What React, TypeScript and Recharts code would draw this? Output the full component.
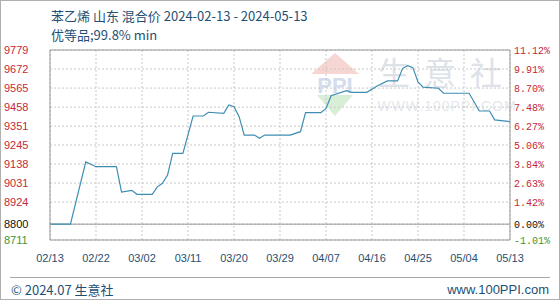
import React from 'react';
import { LineChart, Line, XAxis, YAxis, CartesianGrid, ReferenceLine } from 'recharts';

// 苯乙烯 山东 混合价, daily quotes
const dates = [
    '2024-02-13', '2024-02-17', '2024-02-20', '2024-02-22', '2024-02-26', '2024-02-27', '2024-02-29',
    '2024-03-01', '2024-03-04', '2024-03-05', '2024-03-06', '2024-03-07', '2024-03-08', '2024-03-10',
    '2024-03-12', '2024-03-14', '2024-03-15', '2024-03-18', '2024-03-19', '2024-03-20', '2024-03-21',
    '2024-03-22', '2024-03-24', '2024-03-25', '2024-03-26', '2024-03-31', '2024-04-02', '2024-04-03',
    '2024-04-06', '2024-04-07', '2024-04-08', '2024-04-11', '2024-04-12', '2024-04-15', '2024-04-17',
    '2024-04-19', '2024-04-21', '2024-04-22', '2024-04-23', '2024-04-24', '2024-04-25', '2024-04-26',
    '2024-04-29', '2024-04-30', '2024-05-05', '2024-05-07', '2024-05-09', '2024-05-10', '2024-05-13',
];
const prices = [
    8800, 8800, 9150, 9123, 9123, 8980, 8990,
    8968, 8968, 9010, 9030, 9076, 9198, 9198,
    9408, 9408, 9429, 9423, 9470, 9460, 9404,
    9301, 9301, 9283, 9301, 9301, 9320, 9427,
    9427, 9451, 9522, 9550, 9541, 9541, 9577,
    9605, 9605, 9676, 9691, 9680, 9600, 9570,
    9564, 9536, 9536, 9436, 9436, 9386, 9376,
];

const xTickDates = [
    '2024-02-13', '2024-02-22', '2024-03-02', '2024-03-11', '2024-03-20', '2024-03-29',
    '2024-04-07', '2024-04-16', '2024-04-25', '2024-05-04', '2024-05-13',
];
const yTicks = [8711, 8800, 8924, 9031, 9138, 9245, 9351, 9458, 9565, 9672, 9779];
const pctLabels = ['-1.01%', '0.00%', '1.42%', '2.63%', '3.84%', '5.06%', '6.27%', '7.48%', '8.70%', '9.91%', '11.12%'];

const basePrice = 8800;

const dayOf = (d: string) => Math.round((Date.parse(d) - Date.parse(dates[0])) / 86400000);
const data = dates.map((d, i) => ({ day: dayOf(d), price: prices[i] }));
const xTicks = xTickDates.map(dayOf);
const xLabel = (day: number) => {
    const d = xTickDates[xTicks.indexOf(day)];
    return d ? d.slice(5).replace('-', '/') : '';
};

const tickColor = (v: number) => (v === basePrice ? '#111' : v < basePrice ? '#3a963a' : '#c4283a');

const LeftTick = (props: any) => {
    const { y, payload } = props;
    return (
        <text x={4} y={y} dy={4} fill={tickColor(payload.value)} fontSize={11} fontFamily="Liberation Sans">
            {payload.value}
        </text>
    );
};

const RightTick = (props: any) => {
    const { y, payload } = props;
    const label = pctLabels[yTicks.indexOf(payload.value)];
    return (
        <text x={514} y={y} dy={4} fill={tickColor(payload.value)} fontSize={10} fontFamily="Liberation Mono">
            {label}
        </text>
    );
};

const BottomTick = (props: any) => {
    const { x, payload } = props;
    return (
        <text x={x} y={262} textAnchor="middle" fill="#1f4f73" fontSize={11} fontFamily="Liberation Sans">
            {xLabel(payload.value)}
        </text>
    );
};

const Watermark = () => (
    <div style={{ position: 'absolute', left: 0, top: 0, width: 560, height: 300 }}>
        <svg width={560} height={300}>
            <polygon points="310,73 334,52 358,73" fill="#f6d6d2" />
            <text x={334} y={92} textAnchor="middle" fontSize={22} fontWeight="bold" fill="#d3ddee" fontFamily="Liberation Sans">
                PPI
            </text>
            <polygon points="316,94 352,94 334,115" fill="#d8eed6" />
            <text x={446} y={84} textAnchor="middle" fontSize={32} fill="#dde2e9" letterSpacing={14} fontFamily="Noto Sans CJK SC">
                生意社
            </text>
            <text x={446} y={110} textAnchor="middle" fontSize={14} fill="#e5e8ec" letterSpacing={1} fontFamily="Liberation Sans">
                WWW.100PPI.COM
            </text>
        </svg>
    </div>
);

const App: React.FC = () => (
    <div
        style={{
            position: 'fixed',
            left: 0,
            top: 0,
            width: 560,
            height: 300,
            boxSizing: 'border-box',
            border: '1px solid #b0b0b0',
            background: '#fff',
            overflow: 'hidden',
        }}
    >
        <Watermark />
        <div
            style={{
                position: 'absolute',
                left: 50,
                top: 5,
                fontSize: 13,
                color: '#1f4f73',
                fontFamily: '"Noto Sans CJK SC"',
                lineHeight: '19px',
                whiteSpace: 'nowrap',
            }}
        >
            <div>苯乙烯 山东 混合价 2024-02-13 - 2024-05-13</div>
            <div>优等品;99.8% min</div>
        </div>
        <div style={{ position: 'absolute', left: -1, top: -1 }}>
            <LineChart width={560} height={300} data={data} margin={{ top: 50, right: 0, left: 0, bottom: 0 }}>
                <CartesianGrid yAxisId="l" stroke="#c8c8c8" strokeDasharray="2 2" />
                <XAxis
                    dataKey="day"
                    type="number"
                    domain={[0, 90]}
                    ticks={xTicks}
                    interval={0}
                    height={60}
                    tick={<BottomTick />}
                    tickLine={false}
                    axisLine={{ stroke: '#999' }}
                />
                <YAxis
                    yAxisId="l"
                    domain={[8711, 9779]}
                    ticks={yTicks}
                    interval={0}
                    width={50}
                    tick={<LeftTick />}
                    tickLine={false}
                    axisLine={{ stroke: '#999' }}
                    allowDataOverflow
                />
                <YAxis
                    yAxisId="r"
                    orientation="right"
                    domain={[8711, 9779]}
                    ticks={yTicks}
                    interval={0}
                    width={50}
                    tick={<RightTick />}
                    tickLine={false}
                    axisLine={{ stroke: '#999' }}
                    allowDataOverflow
                />
                <ReferenceLine yAxisId="l" y={9779} stroke="#999" />
                <ReferenceLine yAxisId="l" y={basePrice} stroke="#999" />
                <Line
                    yAxisId="l"
                    dataKey="price"
                    type="linear"
                    stroke="#3f8db3"
                    strokeWidth={1.2}
                    dot={false}
                    isAnimationActive={false}
                />
            </LineChart>
        </div>
        <div style={{ position: 'absolute', left: 9, right: 9, top: 276, borderTop: '1px solid #a8a8a8' }} />
        <div
            style={{
                position: 'absolute',
                left: 10,
                top: 280,
                fontSize: 13,
                color: '#1f4f73',
                fontFamily: '"Noto Sans CJK SC"',
                lineHeight: '18px',
            }}
        >
            © 2024.07 生意社
        </div>
        <div
            style={{
                position: 'absolute',
                right: 10,
                top: 280,
                fontSize: 13,
                color: '#1f4f73',
                fontFamily: '"Liberation Sans"',
                lineHeight: '18px',
            }}
        >
            www.100PPI.com
        </div>
    </div>
);

export default App;
